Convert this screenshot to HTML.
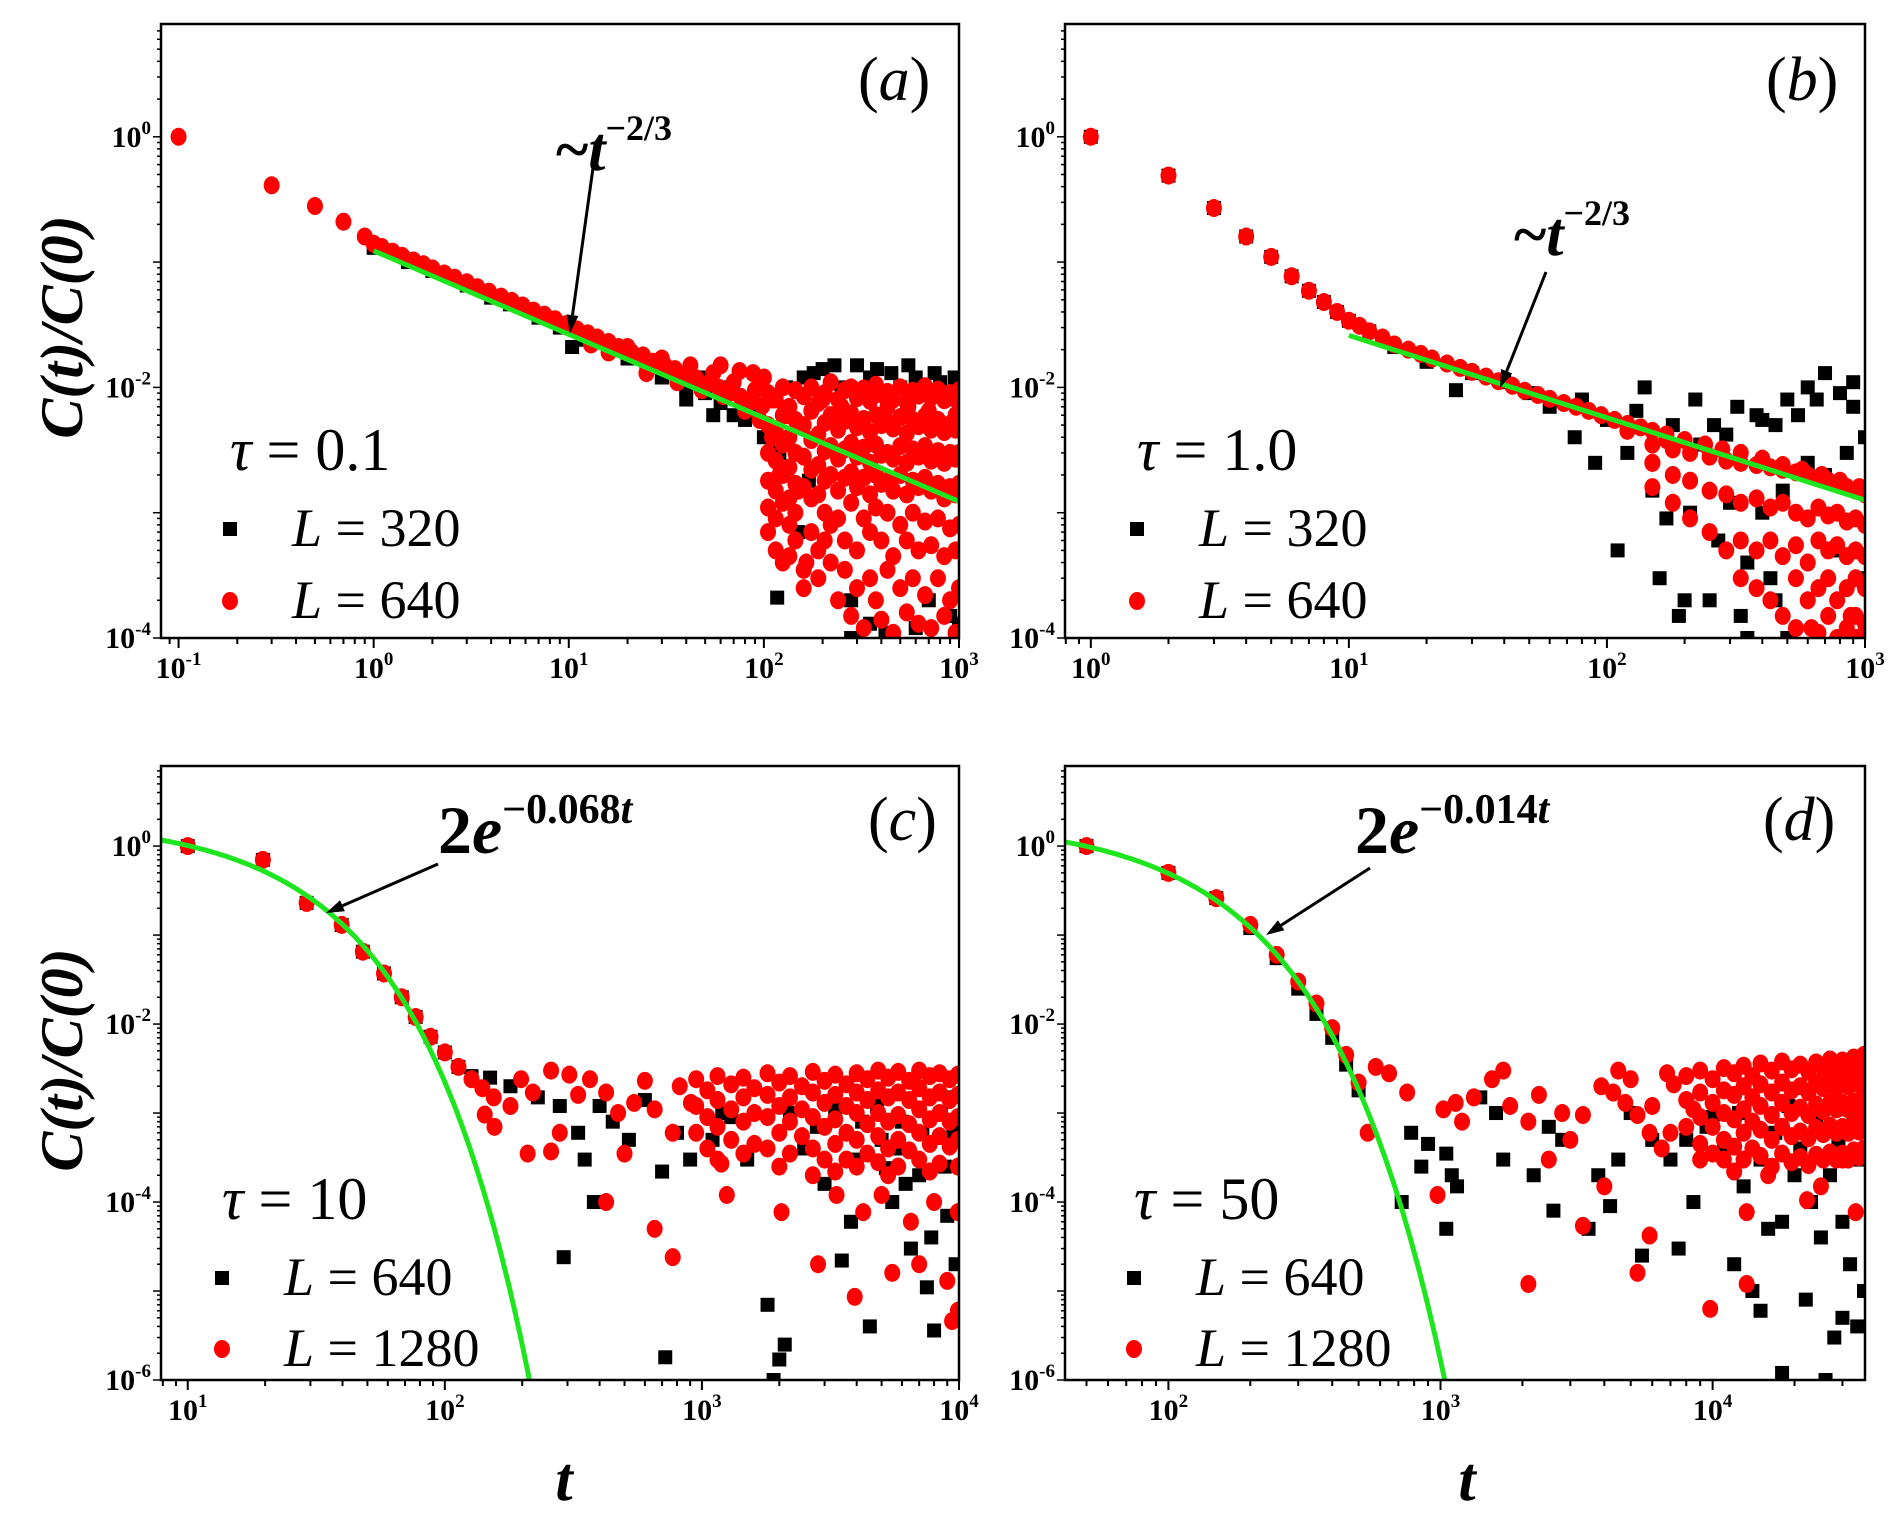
<!DOCTYPE html>
<html><head><meta charset="utf-8">
<style>
html,body{margin:0;padding:0;background:#fff;}
svg{display:block;}
svg text{font-family:"Liberation Serif","DejaVu Serif",serif;}
</style></head>
<body>
<svg id="fig" width="1901" height="1519" viewBox="0 0 1901 1519" xmlns="http://www.w3.org/2000/svg" font-family="Liberation Serif, DejaVu Serif, serif">
<g id="layer"></g>
<text transform="translate(82,327) rotate(-90)" text-anchor="middle" font-size="60" font-weight="bold" font-style="italic" font-family="Liberation Serif, serif">C(t)/C(0)</text>
<text transform="translate(82,1060) rotate(-90)" text-anchor="middle" font-size="60" font-weight="bold" font-style="italic" font-family="Liberation Serif, serif">C(t)/C(0)</text>
<text x="564" y="1500" text-anchor="middle" font-size="62" font-weight="bold" font-style="italic" font-family="Liberation Serif, serif">t</text>
<text x="1467" y="1500" text-anchor="middle" font-size="62" font-weight="bold" font-style="italic" font-family="Liberation Serif, serif">t</text>
</svg>
<script>
// ---------- DATA ----------
// panel a (tau = 0.1)
const aRedMainT = [0.1,0.3,0.5,0.7,0.9,1,1.1,1.25,1.4,1.6,1.8,2,2.3,2.6,3,3.4,3.9,4.5,5.1,5.8,6.6,7.5,8.5,9.7,11,12.5,14,16,18,21,24,27,31,35,40,45,52,59,67,76,86,98];
const aRedMainY = [1.0,0.41,0.28,0.21,0.16,0.14,0.132,0.121,0.112,0.103,0.096,0.089,0.081,0.075,0.069,0.063,0.058,0.053,0.049,0.045,0.041,0.038,0.035,0.032,0.029,0.027,0.025,0.023,0.021,0.019,0.018,0.016,0.015,0.014,0.0127,0.0118,0.0108,0.0099,0.0091,0.0084,0.0077,0.0071];
const aRedNoise = [[13,0.022],[16,0.019],[20,0.021],[25,0.013],[30,0.017],[36,0.011],[42,0.015],[48,0.0095],[55,0.013],[62,0.0085],[70,0.011],[80,0.0065],[90,0.0095],[95,0.0055],[100,0.012],[88,0.013],[75,0.0135],[60,0.015],[110,8e-3],[110,4e-3],[120,2e-3],[130,6e-3],[150,1.5e-3],[165,4e-4],[200,8e-3],[250,7e-3],[320,9e-3],[430,7e-3],[550,7e-3],[700,6.5e-3],[960,6e-3]];
const aFillT = [105,115,125,135,145,160,175,190,205,220,240,260,280,300,325,350,375,400,430,460,500,540,580,620,670,720,780,840,900,960,1000];
// fill values in units of 1e-3
const aFillY = [[9,5,3,1.8,1.1,0.7],[8,4.5,2.6,1.5,0.9,0.5],[10,6,3.5,2,1.2,0.4],[7,4,2.3,1.3,0.8,0.45],[9.5,5.5,3,1.7,1,0.6],[8.5,5,2.8,1.6,0.35,0.25],[10,6.5,3.8,2.2,1.3,0.7],[7.5,4.2,2.4,1.4,0.5,0.3],[9,5.2,3.1,1.8,1,0.6],[11,6,3.4,2,0.8,0.4],[8,4.6,2.7,1.5,0.9,0.2],[9.5,5.4,3.2,1.9,0.6,0.35],[10,6.2,3.6,2.1,1.2,0.15],[8.2,4.8,2.8,1.6,0.5,0.25],[9.8,5.6,3.3,1.9,0.9,0.12],[7.8,4.4,2.5,1.4,0.7,0.3],[10.5,6,3.5,2,1.1,0.2],[8.8,5,2.9,1.7,0.6,0.14],[9.2,5.3,3,1.8,1,0.35],[8,4.7,2.7,1.5,0.45,0.11],[10,5.8,3.4,2,0.8,0.25],[7.5,4.3,2.5,1.4,0.6,0.16],[9.4,5.5,3.2,1.8,1.0,0.3],[8.6,4.9,2.8,1.6,0.5,0.13],[10.2,5.9,3.4,1.9,0.85,0.22],[8.3,4.6,2.6,1.5,0.55,0.12],[9.6,5.5,3.1,1.7,0.9,0.3],[7.9,4.4,2.5,1.3,0.45,0.15],[9,5.1,3,1.6,0.75,0.2],[8.1,4.6,2.7,1.4,0.5,0.11],[9.5,5.3,3,1.7,0.8,0.25]];
const aBlackMainT = [1,1.5,2,3,4,5,7,9,12,16,20,25,30,40,50,60,70,80];
const aBlackMainY = [0.13,0.1,0.085,0.065,0.052,0.046,0.036,0.03,0.024,0.02,0.017,0.015,0.012,0.01,0.009,0.0075,0.006,0.0055];
const aBlackNoise = [[10.4,0.021],[90,6e-3],[100,4e-3],[110,8e-3],[120,3e-3],[117,2.1e-4],[130,1e-2],[160,1.2e-2],[200,1.4e-2],[250,1e-2],[300,1.5e-2],[350,1.2e-2],[400,9e-3],[450,1.3e-2],[500,1e-2],[600,1.2e-2],[700,9e-3],[800,1.1e-2],[900,8e-3],[1000,9e-3],[280,2e-4],[300,1e-4],[350,1.3e-4],[280,1e-4],[700,2e-4],[50,1.2e-2],[60,1e-2],[55,6e-3],[40,8e-3],[30,1.2e-2],[150,7e-4],[170,1.8e-3],[600,1.2e-4],[900,1.5e-4],[180,1.3e-2],[230,1.5e-2],[380,1.4e-2],[550,1.5e-2],[750,1.3e-2],[950,1.2e-2],[420,1.1e-4],[1000,1.3e-4]];
const aGreenT = [1,1000];
const aGreenY = [0.123,0.00123];

// panel b (tau = 1.0)
const bRedMainT = [1,2,3,4,5,6,7,8,9,10,11,12,13.5,15,17,19,21,24,27,30,34,38,43,48,54,60,68,76,85,95,107,120,135,150,170,200,240,280,330,400,480,570,680,800,950];
const bRedMainY = [1,0.49,0.27,0.16,0.11,0.077,0.059,0.048,0.04,0.034,0.031,0.028,0.025,0.022,0.02,0.0185,0.017,0.0155,0.0143,0.0133,0.0122,0.0112,0.0103,0.0094,0.0087,0.0081,0.0075,0.007,0.0065,0.006,0.0055,0.0051,0.0048,0.0045,0.0042,0.0038,0.0035,0.0032,0.003,0.0027,0.0024,0.0022,0.002,0.0018,0.0016];
const bRedNoise = [[620,1.2e-4],[880,1.5e-4],[1000,1.1e-4],[120,4.5e-3],[150,2.5e-3],[170,3.8e-3]];
const bFillT = [150,180,210,250,290,330,380,430,480,540,600,660,720,780,850,920,1000];
const bFillY = [[3.5,2.5,1.6],[3.2,2,1.2],[3,1.8,0.9],[2.8,1.5,0.7],[2.6,1.4,0.5],[2.5,1.2,0.6,0.3],[2.4,1.3,0.5,0.25],[2.3,1.1,0.6,0.2],[2.2,1.2,0.45,0.15],[2.1,1,0.55,0.3,0.12],[2,0.9,0.4,0.2],[1.9,1.1,0.6,0.25,0.11],[1.8,0.95,0.5,0.3,0.15],[1.7,1,0.55,0.2,0.1],[1.6,0.85,0.45,0.25,0.12],[1.5,0.9,0.5,0.3,0.15,0.1],[1.4,0.8,0.45,0.25,0.13,0.1]];
const bBlackMainT = [1,2,3,4,5,6,7,8,9,10,12,15,20];
const bBlackMainY = [1,0.49,0.27,0.16,0.11,0.077,0.059,0.048,0.04,0.034,0.028,0.021,0.016];
const bBlackNoise = [[26,9.5e-3],[30,1.3e-2],[40,1.1e-2],[50,9e-3],[60,7e-3],[80,8e-3],[100,5.5e-3],[120,3e-3],[130,6.5e-3],[150,1.5e-3],[170,9e-4],[180,5e-3],[200,2e-4],[210,1e-3],[230,3.5e-3],[250,2e-4],[270,6e-4],[290,4.2e-3],[300,1.2e-3],[330,1.5e-4],[350,4e-4],[380,6e-3],[400,1e-3],[430,3e-4],[450,5e-3],[480,1.5e-3],[500,1e-4],[550,6e-3],[600,2.5e-3],[650,8e-3],[700,2e-3],[750,5e-4],[800,9e-3],[850,3e-3],[900,7e-3],[950,1.5e-3],[1000,4e-3],[1000,3e-4],[700,1.3e-2],[500,8e-3],[400,5.5e-3],[75,4e-3],[90,2.5e-3],[110,5e-4],[160,3e-4],[190,1.5e-4],[350,1e-4],[450,2e-4],[140,1e-2],[220,8e-3],[260,5e-3],[320,7e-3],[600,1e-2],[900,1.1e-2]];
const bGreenT = [10,1000];
const bGreenY = [0.026,0.00126];

// panel c (tau = 10)
const cRedMainT = [10,19.6,29,39.7,48,58,68,77,88,100,113,127,140,155];
const cRedMainY = [1.0,0.7,0.23,0.13,0.065,0.037,0.02,0.012,0.0072,0.0048,0.0033,0.0024,0.0019,0.0015];
const cRedNoise = [[143,9.6e-4],[156,7e-4],[198,2.4e-3],[220,1.7e-3],[259,3e-3],[305,2.7e-3],[367,2.4e-3],[259,3.7e-4],[210,3.5e-4],[424,1.7e-3],[472,1e-3],[545,1.3e-3],[655,1.1e-3],[770,6e-4],[906,1.3e-3],[1190,2.7e-4],[1250,1.2e-4],[3930,8.6e-6],[4240,7.7e-5],[5500,1.6e-5],[9400,4.6e-6],[9900,7.7e-5],[770,2.4e-5],[655,5e-5],[424,1e-4],[2830,2e-5],[2040,7.7e-5],[3340,1.2e-4],[5000,1.2e-4],[6500,6e-5],[8000,1e-4],[7000,2e-5],[9000,1.3e-5],[9900,6e-6],[600,2.3e-3],[500,3.5e-4],[330,1.6e-3],[280,6e-4],[180,1.2e-3],[820,2e-3]];
const cFillT = [950,1050,1150,1300,1450,1600,1800,2000,2200,2450,2700,3000,3300,3650,4000,4400,4850,5300,5800,6400,7000,7700,8400,9200,9900];
const cFillY = [[2.4,1.2,0.6],[1.8,0.9,0.4],[2.6,1.4,0.7,0.3],[2.1,1.1,0.5],[2.5,1.5,0.8,0.35],[1.9,1,0.45],[2.8,1.6,0.9,0.4],[2.2,1.2,0.6,0.25],[2.6,1.5,0.8,0.35],[2,1.1,0.55],[2.9,1.7,0.9,0.4,0.2],[2.3,1.3,0.7,0.3],[2.7,1.6,0.85,0.45,0.22],[2.1,1.2,0.6,0.3],[2.8,1.7,1,0.5,0.25],[2.4,1.4,0.75,0.35],[3,1.8,1,0.55,0.28],[2.5,1.5,0.8,0.4,0.2],[2.9,1.7,0.95,0.5,0.25],[2.3,1.4,0.75,0.38],[3,1.9,1.1,0.6,0.3],[2.6,1.5,0.85,0.45,0.22],[2.8,1.7,1,0.55,0.27],[2.4,1.4,0.8,0.42],[2.7,1.6,0.9,0.5,0.25]];
const cBlackMainT = [10,19.6,29,39.7,48,58,68,77,88,100,113,127];
const cBlackMainY = [1.0,0.7,0.23,0.13,0.065,0.037,0.02,0.012,0.0072,0.0048,0.0033,0.0026];
const cBlackNoise = [[150,2.5e-3],[180,2e-3],[230,1.5e-3],[280,1.2e-3],[330,6e-4],[400,1.2e-3],[350,3e-4],[380,1e-4],[290,2.4e-5],[450,8e-4],[520,5e-4],[600,1.4e-3],[700,2.2e-4],[720,1.8e-6],[800,6e-4],[900,3e-4],[1100,5e-4],[1300,9e-4],[1500,3e-4],[1800,7e-6],[2000,1.7e-6],[2100,2.5e-6],[1900,1e-6],[2500,4e-4],[3000,1.6e-4],[3500,2.2e-5],[4000,3e-4],[4500,4e-6],[5000,5e-4],[5500,1e-4],[6000,8e-4],[6500,3e-5],[7000,2e-4],[7500,1.1e-5],[8000,3.6e-6],[8500,1e-3],[9000,7e-5],[9500,6e-4],[2200,1e-3],[2800,7e-4],[3300,1.1e-3],[4200,8e-4],[4800,1.2e-3],[5800,4e-4],[7200,6e-4],[9200,1.5e-3],[1200,1e-3],[6200,1.6e-4],[8800,2.5e-4],[7800,4e-5],[9700,2e-5],[5200,2.4e-4],[3800,6e-5]];
const cRate = 0.068;

// panel d (tau = 50)
const dRedMainT = [50,100,150,200,250,300,350,400,450,500];
const dRedMainY = [1.0,0.5,0.26,0.13,0.06,0.03,0.017,0.009,0.0045,0.0022];
const dRedNoise = [[578,3.3e-3],[647,2.8e-3],[754,1.7e-3],[1025,1.1e-3],[1137,1.3e-3],[1326,1.5e-3],[1546,2.4e-3],[1803,1.2e-3],[2103,8e-4],[3337,9.5e-4],[4312,1.7e-3],[4777,1.3e-3],[5296,9.5e-4],[5867,6e-4],[7197,2.1e-3],[975,1.2e-4],[2103,1.2e-5],[3337,5.4e-5],[5867,4.2e-5],[9800,6.3e-6],[13340,1.2e-5],[5296,1.6e-5],[13340,7.7e-5],[22230,1.05e-4],[33570,7.7e-5],[540,6e-4],[7000,6e-4],[6500,4e-4],[4500,3e-3],[3900,2e-3],[2500,3e-4],[1700,3e-3],[4000,1.5e-4],[2800,1e-3],[16000,2e-4],[25000,1.5e-4],[30000,3e-4],[1200,8e-4],[2300,1.6e-3],[3000,5e-4],[5000,2.4e-3],[6000,1.2e-3],[6800,2.8e-3],[9000,3e-4],[11000,3e-4],[8500,1.1e-3]];
const dFillT = [8000,9000,10000,11000,12000,13000,14000,15000,16500,18000,19500,21000,22500,24000,25500,27000,28500,30000,31500,33000,34500,36000];
const dFillY = [[2.6,1.4,0.7],[3,1.7,0.9,0.45],[2.4,1.3,0.7,0.35],[3.2,1.8,1,0.5],[2.8,1.6,0.85,0.42,0.22],[3.4,2,1.1,0.6,0.3],[2.6,1.5,0.8,0.4],[3.6,2.1,1.2,0.65,0.33],[3,1.7,0.95,0.5,0.25],[3.8,2.2,1.3,0.7,0.35],[3.1,1.8,1,0.55,0.28],[3.5,2,1.15,0.62,0.32],[2.9,1.7,0.95,0.52,0.26],[3.7,2.2,1.25,0.68,0.34],[3.2,1.9,1.05,0.58,0.3],[4,2.3,1.3,0.72,0.36],[3.3,1.9,1.1,0.6,0.3],[3.9,2.3,1.3,0.7,0.35],[3.4,2,1.1,0.6,0.3],[4.2,2.4,1.35,0.75,0.38],[3.5,2.1,1.15,0.62,0.32],[4.5,2.6,1.5,0.8,0.4]];
const dBlackMainT = [50,100,150,200,250,300,350,400,450,500];
const dBlackMainY = [1.0,0.5,0.26,0.12,0.055,0.025,0.013,0.007,0.0035,0.0018];
const dBlackNoise = [[780,6e-4],[900,4.5e-4],[850,2.5e-4],[1050,3.5e-4],[1100,2e-4],[1150,1.5e-4],[720,1e-4],[1050,5e-5],[1400,1.5e-3],[1600,1e-3],[1700,3e-4],[2200,2e-4],[2500,7e-4],[2800,5e-4],[2600,8e-5],[3500,5e-5],[3800,2e-4],[4200,9e-5],[4500,3e-4],[5000,1e-3],[5500,2.5e-5],[6000,5e-4],[7000,3e-4],[7500,3e-5],[8500,1e-4],[9500,7e-4],[11000,4e-4],[12000,2e-5],[13000,1.5e-4],[14000,1e-5],[15000,6e-6],[16000,5e-5],[18000,1.2e-6],[20000,2e-4],[22000,8e-6],[25000,4e-5],[26000,1e-6],[28000,3e-6],[30000,5e-6],[32000,2e-5],[34000,4e-6],[36000,1e-5],[17000,6e-4],[24000,8e-4],[29000,5e-4],[33000,9e-4],[10000,9e-4],[8000,5e-4],[12500,1e-3],[15000,3e-4],[19000,1.2e-3],[21000,4e-4],[27000,2e-4],[31000,1.1e-3],[35000,3e-4],[23000,1e-4],[18000,6e-5],[30000,6e-5]];
const dRate = 0.014;

const xTicksA = [-1,0,1,2,3];
const xTicksB = [0,1,2,3];
const xTicksC = [1,2,3,4];
const xTicksD = [2,3,4];
const yTicksTop = [0,-2,-4];
const yTicksBot = [0,-2,-4,-6];

// ---------- DRAW ----------
const NS = "http://www.w3.org/2000/svg";
const layer = document.getElementById('layer');
const FONT = 'Liberation Serif, DejaVu Serif, serif';
function mk(tag, attrs, parent){
  const e = document.createElementNS(NS, tag);
  for (const k in attrs) e.setAttribute(k, attrs[k]);
  (parent||layer).appendChild(e);
  return e;
}
function makePanel(id, px0, px1, py0, py1, lx0, lx1, ly0, ly1){
  const g = mk('g', {});
  
  
  const clipId = 'clip-' + id;
  const cp = mk('clipPath', {id: clipId}, g);
  mk('rect', {x: px0, y: py0, width: px1-px0, height: py1-py0}, cp);
  const data = mk('g', {'clip-path': 'url(#' + clipId + ')'}, g);
  return {
    g: g, data: data,
    x: v => px0 + (Math.log10(v) - lx0) / (lx1 - lx0) * (px1 - px0),
    y: v => py1 - (Math.log10(v) - ly0) / (ly1 - ly0) * (py1 - py0),
    px0, px1, py0, py1, lx0, lx1, ly0, ly1
  };
}
function axes(P, id, xt, yt){
  for (let d = Math.floor(P.lx0); d <= Math.ceil(P.lx1); d++){
    for (let k = 1; k <= 9; k++){
      const lv = d + Math.log10(k);
      if (lv < P.lx0 || lv > P.lx1) continue;
      const X = P.x(Math.pow(10, lv));
      const major = k === 1 && xt.includes(d);
      mk('line', {x1: X, x2: X, y1: P.py1, y2: P.py1 + (major ? 10 : 6), stroke: '#000', 'stroke-width': 2}, P.g);
    }
  }
  for (let d = Math.floor(P.ly0); d <= Math.ceil(P.ly1); d++){
    for (let k = 1; k <= 9; k++){
      const lv = d + Math.log10(k);
      if (lv < P.ly0 || lv > P.ly1) continue;
      const Y = P.y(Math.pow(10, lv));
      const major = k === 1;
      mk('line', {x1: P.px0 - (major ? 8 : 4), x2: P.px0, y1: Y, y2: Y, stroke: '#000', 'stroke-width': 1.5}, P.g);
    }
  }
  mk('rect', {x: P.px0, y: P.py0, width: P.px1 - P.px0, height: P.py1 - P.py0, fill: 'none', stroke: '#000', 'stroke-width': 2.5}, P.g);
  xt.forEach(e => {
    const X = P.x(Math.pow(10, e));
    const t = mk('text', {x: X, y: P.py1 + 40, 'text-anchor': 'middle', 'font-size': 30, 'font-weight': 'bold', 'font-family': FONT}, P.g);
    
    
    t.innerHTML = '10<tspan dy="-13" font-size="19">' + e + '</tspan>';
  });
  yt.forEach(e => {
    const Y = P.y(Math.pow(10, e));
    const t = mk('text', {x: P.px0 - 10, y: Y + 10, 'text-anchor': 'end', 'font-size': 30, 'font-weight': 'bold', 'font-family': FONT}, P.g);
    
    
    t.innerHTML = '10<tspan dy="-13" font-size="19">' + e + '</tspan>';
  });
}
function squares(P, ts, ys){
  ts.forEach((t, i) => {
    const r = mk('rect', {x: P.x(t) - 7, y: P.y(ys[i]) - 7, width: 14, height: 14, fill: '#000'}, P.data);
    
    
  });
}
function circles(P, ts, ys){
  ts.forEach((t, i) => {
    const c = mk('ellipse', {cx: P.x(t), cy: P.y(ys[i]), rx: 8, ry: 9, fill: '#ff0000'}, P.data);
    
    
  });
}
function fillCircles(P, ts, rows){
  ts.forEach((t, i) => {
    rows[i].forEach(v => {
      const c = mk('ellipse', {cx: P.x(t), cy: P.y(v * 1e-3), rx: 8, ry: 9, fill: '#ff0000'}, P.data);
      
      
    });
  });
}
function pairsT(a){ return a.map(p => p[0]); }
function pairsY(a){ return a.map(p => p[1]); }
function powerLine(P, ts, ys){
  const l = mk('line', {x1: P.x(ts[0]), y1: P.y(ys[0]), x2: P.x(ts[1]), y2: P.y(ys[1]), stroke: '#1fe51f', 'stroke-width': 5}, P.data);
  
  
}
function expCurve(P, rate){
  let d = '';
  for (let i = 0; i <= 300; i++){
    const lt = P.lx0 + (P.lx1 - P.lx0) * i / 300;
    const t = Math.pow(10, lt);
    const v = 2 * Math.exp(-rate * t);
    if (v < 1e-8) break;
    d += (d ? 'L' : 'M') + P.x(t).toFixed(1) + ',' + P.y(v).toFixed(1);
  }
  const p = mk('path', {d: d, fill: 'none', stroke: '#1fe51f', 'stroke-width': 5}, P.data);
  
  
}
function txt(parent, x, y, html, size, extra){
  const t = mk('text', Object.assign({x: x, y: y, 'font-size': size, 'font-family': FONT}, extra || {}), parent);
  t.innerHTML = html;
  return t;
}
function legend(P, x, tauY, tauVal, l1Y, l1, l2Y, l2){
  const t = txt(P.g, x, tauY, '<tspan font-style="italic">τ</tspan>  = ' + tauVal, 60);
  
  
  const s = mk('rect', {x: x - 7, y: l1Y - 24, width: 14, height: 14, fill: '#000'}, P.g);
  
  
  const e1 = txt(P.g, x + 62, l1Y, '<tspan font-style="italic">L</tspan> = ' + l1, 54);
  
  
  const c = mk('ellipse', {cx: x, cy: l2Y - 17, rx: 8, ry: 9, fill: '#ff0000'}, P.g);
  
  
  const e2 = txt(P.g, x + 62, l2Y, '<tspan font-style="italic">L</tspan> = ' + l2, 54);
  
  
}
function arrow(P, x1, y1, x2, y2){
  const a = Math.atan2(y2 - y1, x2 - x1), L = 18, W = 6;
  const bx = x2 - L * Math.cos(a), by = y2 - L * Math.sin(a);
  mk('line', {x1: x1, y1: y1, x2: bx, y2: by, stroke: '#000', 'stroke-width': 3}, P.g);
  const p = mk('polygon', {points: [x2, y2, bx + W * Math.sin(a), by - W * Math.cos(a), bx - W * Math.sin(a), by + W * Math.cos(a)].join(','), fill: '#000'}, P.g);
  
  
}

// Panel a
const A = makePanel('a', 161, 959, 24, 638, -1.09, 3, -4, 0.9);
squares(A, aBlackMainT, aBlackMainY);
squares(A, pairsT(aBlackNoise), pairsY(aBlackNoise));
circles(A, aRedMainT, aRedMainY);
circles(A, pairsT(aRedNoise), pairsY(aRedNoise));
fillCircles(A, aFillT, aFillY);
powerLine(A, aGreenT, aGreenY);
axes(A, 'a', xTicksA, yTicksTop);
txt(A.g, 858, 100, '(<tspan font-style="italic">a</tspan>)', 62);
legend(A, 230, 470, '0.1', 546, '320', 618, '640');
const annA = txt(A.g, 556, 170, '~<tspan font-style="italic">t</tspan><tspan dy="-30" font-size="36">−2/3</tspan>', 62, {'font-weight': 'bold'});


arrow(A, 593, 168, 570, 333);

// Panel b
const B = makePanel('b', 1065, 1865, 24, 638, -0.1, 3, -4, 0.9);
squares(B, bBlackMainT, bBlackMainY);
squares(B, pairsT(bBlackNoise), pairsY(bBlackNoise));
circles(B, bRedMainT, bRedMainY);
circles(B, pairsT(bRedNoise), pairsY(bRedNoise));
fillCircles(B, bFillT, bFillY);
powerLine(B, bGreenT, bGreenY);
axes(B, 'b', xTicksB, yTicksTop);
txt(B.g, 1766, 100, '(<tspan font-style="italic">b</tspan>)', 62);
legend(B, 1137, 470, '1.0', 546, '320', 618, '640');
const annB = txt(B.g, 1514, 255, '~<tspan font-style="italic">t</tspan><tspan dy="-30" font-size="36">−2/3</tspan>', 62, {'font-weight': 'bold'});


arrow(B, 1546, 272, 1500, 388);

// Panel c
const C = makePanel('c', 161, 959, 766, 1380, 0.896, 4, -6, 0.9);
squares(C, cBlackMainT, cBlackMainY);
squares(C, pairsT(cBlackNoise), pairsY(cBlackNoise));
circles(C, cRedMainT, cRedMainY);
circles(C, pairsT(cRedNoise), pairsY(cRedNoise));
fillCircles(C, cFillT, cFillY);
expCurve(C, cRate);
axes(C, 'c', xTicksC, yTicksBot);
txt(C.g, 868, 840, '(<tspan font-style="italic">c</tspan>)', 62);
legend(C, 222, 1219, '10', 1295, '640', 1366, '1280');
const annC = txt(C.g, 438, 853, '2<tspan font-style="italic">e</tspan><tspan dy="-30" font-size="42">−0.068<tspan font-style="italic">t</tspan></tspan>', 68, {'font-weight': 'bold'});


arrow(C, 438, 864, 326, 913);

// Panel d
const D = makePanel('d', 1065, 1865, 766, 1380, 1.62, 4.56, -6, 0.9);
squares(D, dBlackMainT, dBlackMainY);
squares(D, pairsT(dBlackNoise), pairsY(dBlackNoise));
circles(D, dRedMainT, dRedMainY);
circles(D, pairsT(dRedNoise), pairsY(dRedNoise));
fillCircles(D, dFillT, dFillY);
expCurve(D, dRate);
axes(D, 'd', xTicksD, yTicksBot);
txt(D.g, 1763, 840, '(<tspan font-style="italic">d</tspan>)', 62);
legend(D, 1134, 1219, '50', 1295, '640', 1366, '1280');
const annD = txt(D.g, 1355, 853, '2<tspan font-style="italic">e</tspan><tspan dy="-30" font-size="42">−0.014<tspan font-style="italic">t</tspan></tspan>', 68, {'font-weight': 'bold'});


arrow(D, 1370, 868, 1266, 935);
</script>
</body></html>
